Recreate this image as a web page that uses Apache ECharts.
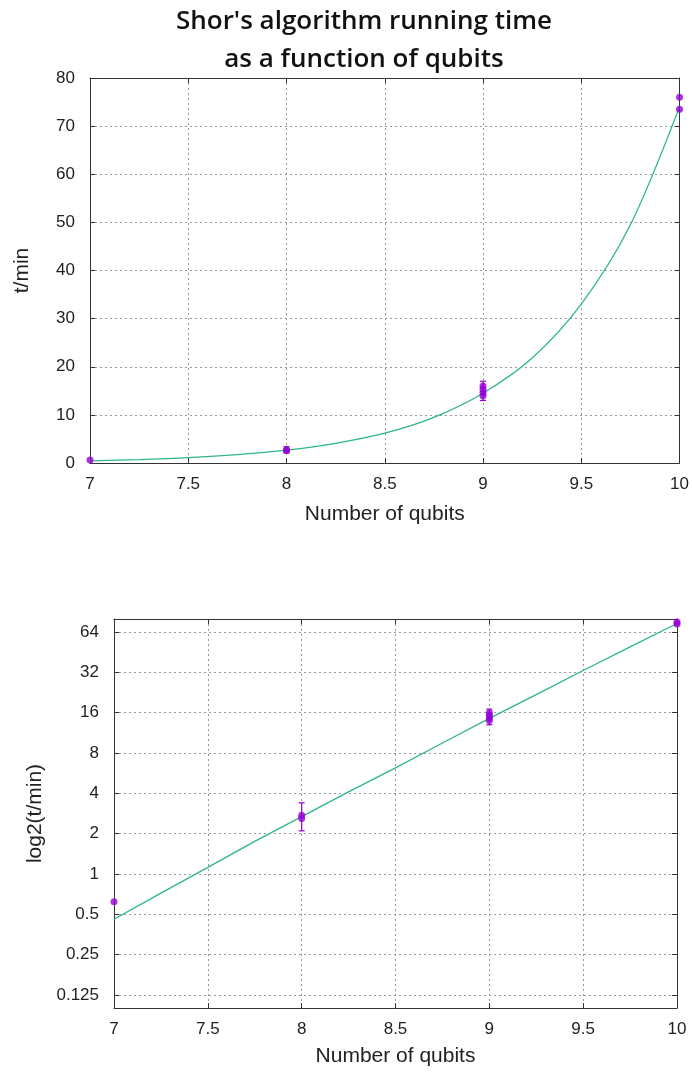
<!DOCTYPE html>
<html><head><meta charset="utf-8">
<script src="https://cdn.jsdelivr.net/npm/echarts@6/dist/echarts.min.js"></script>
<style>html,body{margin:0;padding:0;background:#fff}#c{width:692px;height:1072px}</style>
</head><body><div id="c"></div>
<script>
// Measured points (qubits, minutes)
const pointX = [7, 8, 8, 9, 9, 9, 9, 10, 10];
const pointY = [0.62, 2.75, 2.6, 14.0, 14.6, 15.3, 16.0, 76.0, 73.5];
// Error bars
const errX = [8, 9];
const errLow = [2.1, 13.0];
const errHigh = [3.4, 17.0];
// Fitted curve
const fitX = [7, 7.25, 7.5, 7.75, 8, 8.25, 8.5, 8.75, 9, 9.25, 9.5, 9.75, 10];
const fitY = [0.46, 0.72, 1.12, 1.75, 2.68, 4.1, 6.2, 9.5, 14.5, 21.8, 33, 49.5, 74];
// Tick labels of the log panel
const logTicks = [0.125, 0.25, 0.5, 1, 2, 4, 8, 16, 32, 64];

const titleLines = ["Shor's algorithm running time", "as a function of qubits"];
const xName = 'Number of qubits';
const yName1 = 't/min';
const yName2 = 'log2(t/min)';

const PURPLE = '#9400d3';
const GREEN = '#2cb68a';
const FRAME = '#333';
const LABEL = {color: '#222', fontFamily: 'Liberation Sans, Arial, sans-serif', fontSize: 17};
const NAME = {color: '#222', fontFamily: 'Liberation Sans, Arial, sans-serif', fontSize: 21};
const GRIDLINE = {show: true, lineStyle: {color: '#999', type: [2, 3], width: 1}};

const pts = pointX.map((x, i) => [x, pointY[i]]);
const fit = fitX.map((x, i) => [x, fitY[i]]);
const errs = errX.map((x, i) => [x, errLow[i], errHigh[i]]);

function xAxes(gi) {
  return [
    {gridIndex: gi, type: 'value', min: 7, max: 10, interval: 0.5,
     axisLine: {show: true, lineStyle: {color: FRAME, width: 1}},
     axisTick: {show: true, inside: true, length: 5, lineStyle: {color: FRAME}},
     axisLabel: Object.assign({margin: 13}, LABEL),
     splitLine: GRIDLINE,
     name: xName, nameLocation: 'middle', nameGap: gi === 0 ? 41 : 38, nameTextStyle: NAME},
    {gridIndex: gi, type: 'value', position: 'top', min: 7, max: 10, interval: 0.5,
     axisLine: {show: true, onZero: false, lineStyle: {color: FRAME, width: 1}},
     axisTick: {show: true, inside: true, length: 5, lineStyle: {color: FRAME}},
     axisLabel: {show: false}, splitLine: {show: false}}
  ];
}

function errSeries(xi, yi) {
  return {
    type: 'custom', xAxisIndex: xi, yAxisIndex: yi, data: errs, z: 5,
    renderItem: function (params, api) {
      const x = api.value(0);
      const lo = api.coord([x, api.value(1)]);
      const hi = api.coord([x, api.value(2)]);
      const w = 3;
      const st = {stroke: PURPLE, lineWidth: 1.2};
      return {type: 'group', children: [
        {type: 'line', shape: {x1: lo[0], y1: lo[1], x2: hi[0], y2: hi[1]}, style: st},
        {type: 'line', shape: {x1: lo[0] - w, y1: lo[1], x2: lo[0] + w, y2: lo[1]}, style: st},
        {type: 'line', shape: {x1: hi[0] - w, y1: hi[1], x2: hi[0] + w, y2: hi[1]}, style: st}
      ]};
    }
  };
}

const chart = echarts.init(document.getElementById('c'), null, {renderer: 'canvas'});
chart.setOption({
  animation: false,
  backgroundColor: '#fff',
  graphic: titleLines.map((t, i) => ({
    type: 'text', x: 364, y: 9 + i * 38, z: 0,
    style: {text: t, textAlign: 'center', fill: '#111',
      font: '600 26px "Open Sans", sans-serif'}
  })),
  grid: [
    {left: 90, right: 11, top: 78, bottom: 609},
    {left: 114, right: 15, top: 619, bottom: 64}
  ],
  xAxis: xAxes(0).concat(xAxes(1)),
  yAxis: [
    {gridIndex: 0, type: 'value', min: 0, max: 80, interval: 10,
     axisLine: {show: true, lineStyle: {color: FRAME}},
     axisTick: {show: true, inside: true, length: 5, lineStyle: {color: FRAME}},
     axisLabel: Object.assign({margin: 15}, LABEL), splitLine: GRIDLINE,
     name: yName1, nameLocation: 'middle', nameGap: 57, nameTextStyle: NAME},
    {gridIndex: 0, type: 'value', position: 'right', min: 0, max: 80, interval: 10,
     axisLine: {show: true, onZero: false, lineStyle: {color: FRAME}},
     axisTick: {show: true, inside: true, length: 5, lineStyle: {color: FRAME}},
     axisLabel: {show: false}, splitLine: {show: false}},
    {gridIndex: 1, type: 'log', logBase: 2, min: 0.1, max: 80,
     axisLine: {show: true, lineStyle: {color: FRAME}},
     axisTick: {show: true, inside: true, length: 5, lineStyle: {color: FRAME}},
     axisLabel: Object.assign({margin: 15, showMinLabel: false, showMaxLabel: false,
       formatter: v => { const r = +(+v).toPrecision(6); return logTicks.indexOf(r) >= 0 ? String(r) : ''; }}, LABEL),
     splitLine: GRIDLINE,
     name: yName2, nameLocation: 'middle', nameGap: 66, nameTextStyle: NAME},
    {gridIndex: 1, type: 'log', logBase: 2, position: 'right', min: 0.1, max: 80,
     axisLine: {show: true, onZero: false, lineStyle: {color: FRAME}},
     axisTick: {show: true, inside: true, length: 5, lineStyle: {color: FRAME}},
     axisLabel: {show: false}, splitLine: {show: false}}
  ],
  series: [
    {type: 'line', xAxisIndex: 0, yAxisIndex: 0, data: fit, smooth: 0.3, showSymbol: false,
     lineStyle: {color: GREEN, width: 1.3}, z: 3},
    errSeries(0, 0),
    {type: 'scatter', xAxisIndex: 0, yAxisIndex: 0, data: pts, symbol: 'circle', symbolSize: 7,
     itemStyle: {color: PURPLE}, z: 6},
    {type: 'line', xAxisIndex: 2, yAxisIndex: 2, data: fit, smooth: false, showSymbol: false,
     lineStyle: {color: GREEN, width: 1.3}, z: 3},
    errSeries(2, 2),
    {type: 'scatter', xAxisIndex: 2, yAxisIndex: 2, data: pts, symbol: 'circle', symbolSize: 7,
     itemStyle: {color: PURPLE}, z: 6}
  ]
});
</script>
</body></html>
